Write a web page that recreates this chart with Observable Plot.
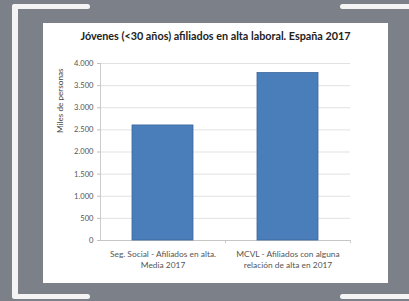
<!DOCTYPE html>
<html>
<head>
<meta charset="utf-8">
<script src="https://cdn.jsdelivr.net/npm/d3@7"></script>
<script src="https://cdn.jsdelivr.net/npm/@observablehq/plot@0.6"></script>
<style>
  html, body { margin: 0; padding: 0; }
  body { width: 409px; height: 301px; background: #7c8088; position: relative; overflow: hidden; font-family: Lato, "Open Sans", sans-serif; }
  .fr { position: absolute; background: #f4f4f4; border-radius: 3px; }
  #panel { position: absolute; left: 43px; top: 23px; width: 345px; height: 260px; background: #ffffff; }
  #title { position: absolute; left: 0; top: 6px; width: 345px; text-align: center; font-weight: bold; font-size: 10.8px; color: #222; }
  #ylab { position: absolute; left: 12px; top: 110px; font-size: 8.2px; color: #444; transform: rotate(-90deg); transform-origin: 0 0; white-space: nowrap; }
  #chart { position: absolute; left: 0; top: 27px; }
</style>
</head>
<body>
<div class="fr" style="left:12px;top:4px;width:78px;height:5px"></div>
<div class="fr" style="left:12px;top:4px;width:6px;height:294px"></div>
<div class="fr" style="left:12px;top:294px;width:78px;height:5px"></div>
<div class="fr" style="left:340px;top:4px;width:75px;height:5px"></div>
<div class="fr" style="left:340px;top:294px;width:75px;height:5px"></div>
<div id="panel">
  <div id="title">Jóvenes (&lt;30 años) afiliados en alta laboral. España 2017</div>
  <div id="ylab">Miles de personas</div>
  <div id="chart"></div>
</div>
<script>
const categories = [
  "Seg. Social - Afiliados en alta.\nMedia 2017",
  "MCVL - Afiliados con alguna\nrelación de alta en 2017"
];
const values = [2600, 3785];
const yTicks = [0, 500, 1000, 1500, 2000, 2500, 3000, 3500, 4000];

const data = categories.map((c, i) => ({cat: c, value: values[i]}));
const fmt = d => d3.format(",")(d).replace(/,/g, ".");

const plot = Plot.plot({
  width: 345,
  height: 233,
  marginLeft: 57,
  marginRight: 38,
  marginTop: 13,
  marginBottom: 43,
  style: {fontFamily: "Lato, 'Open Sans', sans-serif", background: "transparent"},
  x: {domain: categories, paddingInner: 0.51, paddingOuter: 0.255, axis: null, label: null},
  y: {domain: [0, 4000], axis: null, label: null},
  marks: [
    Plot.gridY(yTicks, {stroke: "#d9d9d9", strokeOpacity: 1, strokeWidth: 0.8}),
    Plot.ruleY([0], {stroke: "#bfbfbf", strokeWidth: 0.8}),
    Plot.ruleX([categories[0]], {stroke: "#bfbfbf", strokeWidth: 0.8, dx: -62.5}),
    Plot.ruleX([categories[0]], {y1: 0, y2: -70, stroke: "#bfbfbf", strokeWidth: 0.8, dx: 62.5}),
    Plot.ruleX([categories[1]], {y1: 0, y2: -70, stroke: "#bfbfbf", strokeWidth: 0.8, dx: 62.5}),
    Plot.axisY(yTicks, {tickSize: 3, tickPadding: 4, stroke: "#bfbfbf", fontSize: 7.6, fill: "#555", tickFormat: fmt, label: null}),
    Plot.barY(data, {x: "cat", y: "value", fill: "#4a7ebb", stroke: "#3b679c", strokeWidth: 0.8}),
    Plot.axisX({tickSize: 0, tickPadding: 9, fontSize: 8.4, fill: "#555", lineHeight: 1.3, label: null})
  ]
});
document.getElementById("chart").appendChild(plot);
</script>
</body>
</html>
